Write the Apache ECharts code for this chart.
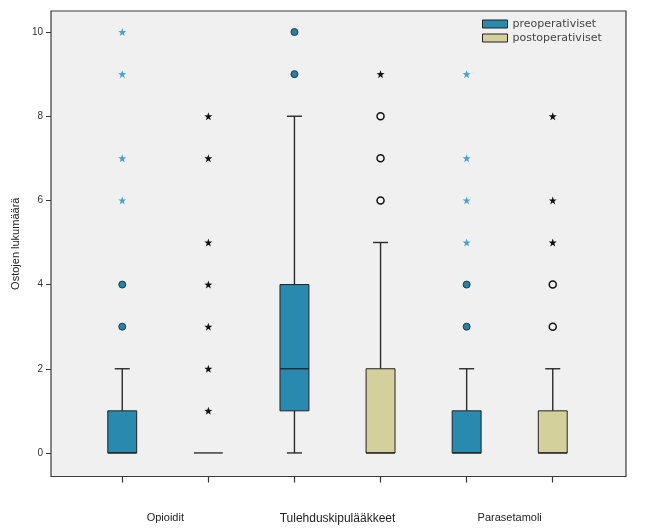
<!DOCTYPE html>
<html>
<head>
<meta charset="utf-8">
<script src="https://cdn.jsdelivr.net/npm/echarts@6/dist/echarts.min.js"></script>
<style>html,body{margin:0;padding:0;background:#fff;}#c{width:655px;height:528px;}</style>
</head>
<body>
<div id="c"></div>
<script>
// ---- data ----
var groups = ['Opioidit', 'Tulehduskipulääkkeet', 'Parasetamoli'];
var boxSlots = ['Opioidit pre', 'Opioidit post', 'Tulehduskipulääkkeet pre', 'Tulehduskipulääkkeet post', 'Parasetamoli pre', 'Parasetamoli post'];
var seriesNames = ['preoperativiset', 'postoperativiset'];
var yTicks = [0, 2, 4, 6, 8, 10];
// [min, Q1, median, Q3, max] per group
var preStats = [[0, 0, 0, 1, 2], [0, 1, 2, 4, 8], [0, 0, 0, 1, 2]];
var postStats = [[0, 0, 0, 0, 0], [0, 0, 0, 2, 5], [0, 0, 0, 1, 2]];
// outliers: [slot index, value]
var preCircles = [[0, 3], [0, 4], [2, 9], [2, 10], [4, 3], [4, 4]];
var preStars = [[0, 6], [0, 7], [0, 9], [0, 10], [4, 5], [4, 6], [4, 7], [4, 9]];
var postCircles = [[3, 6], [3, 7], [3, 8], [5, 3], [5, 4]];
var postStars = [[1, 1], [1, 2], [1, 3], [1, 4], [1, 5], [1, 7], [1, 8], [3, 9], [5, 5], [5, 6], [5, 8]];

// ---- styling ----
var preColor = '#2a89ae';
var postColor = '#d4d09c';
var STAR = 'path://M0,-10L2.35,-3.24L9.51,-3.09L3.8,1.24L5.88,8.09L0,4L-5.88,8.09L-3.8,1.24L-9.51,-3.09L-2.35,-3.24Z';
var FONT = "'Liberation Sans', Arial, sans-serif";
var WIDE = "'DejaVu Sans', sans-serif";
var Y_MIN = -0.56, Y_MAX = 10.5;

function toBoxData(stats, offset) {
  return stats.map(function (s, i) { return [i * 2 + offset].concat(s); });
}

function makeRender(fill) {
  return function (params, api) {
    var x = api.value(0);
    var v = [api.value(1), api.value(2), api.value(3), api.value(4), api.value(5)];
    var p = v.map(function (val) { return api.coord([x, val]); });
    var band = api.size([1, 0])[0];
    var half = band * 0.168;
    var cap = half * 0.52;
    var cx = p[2][0];
    var line = { stroke: '#2a2a2a', lineWidth: 1.4 };
    var ch = [];
    if (v[4] > v[3]) {
      ch.push({ type: 'line', shape: { x1: cx, y1: p[3][1], x2: cx, y2: p[4][1] }, style: line });
      ch.push({ type: 'line', shape: { x1: cx - cap, y1: p[4][1], x2: cx + cap, y2: p[4][1] }, style: line });
    }
    if (v[0] < v[1]) {
      ch.push({ type: 'line', shape: { x1: cx, y1: p[1][1], x2: cx, y2: p[0][1] }, style: line });
      ch.push({ type: 'line', shape: { x1: cx - cap, y1: p[0][1], x2: cx + cap, y2: p[0][1] }, style: line });
    }
    var h = p[1][1] - p[3][1];
    if (h > 0.5) {
      ch.push({ type: 'rect', shape: { x: cx - half, y: p[3][1], width: half * 2, height: h },
        style: { fill: fill, stroke: '#222', lineWidth: 1 } });
    }
    ch.push({ type: 'line', shape: { x1: cx - half, y1: p[2][1], x2: cx + half, y2: p[2][1] }, style: { stroke: '#222', lineWidth: 1.3 } });
    return { type: 'group', children: ch };
  };
}

var chart = echarts.init(document.getElementById('c'), null, { renderer: 'canvas' });
var frameGrid = { left: 51, top: 11, right: 29, bottom: 51.5 };
var dataGrid = { left: 79.2, top: 11, right: 59.2, bottom: 51.5 };

var option = {
  animation: false,
  backgroundColor: '#ffffff',
  textStyle: { fontFamily: FONT },
  grid: [
    { left: frameGrid.left, top: frameGrid.top, right: frameGrid.right, bottom: frameGrid.bottom,
      show: true, backgroundColor: '#f0f0f0', borderColor: '#3a3a3a', borderWidth: 1.2 },
    { left: dataGrid.left, top: dataGrid.top, right: dataGrid.right, bottom: dataGrid.bottom },
    { left: dataGrid.left, top: dataGrid.top, right: dataGrid.right, bottom: dataGrid.bottom }
  ],
  xAxis: [
    { gridIndex: 0, type: 'value', min: 0, max: 1, show: false },
    { gridIndex: 1, type: 'category', data: boxSlots, boundaryGap: true,
      axisLine: { show: false, onZero: false },
      axisTick: { show: true, interval: 0, alignWithLabel: true, length: 6, lineStyle: { color: '#333', width: 1.2 } },
      axisLabel: { show: false, interval: 0 }, splitLine: { show: false } },
    { gridIndex: 2, type: 'category', data: groups, boundaryGap: true,
      axisLine: { show: false, onZero: false }, axisTick: { show: false }, splitLine: { show: false },
      axisLabel: { show: true, interval: 0, margin: 36, color: '#222', fontFamily: FONT,
        formatter: function (val, idx) { return idx === 1 ? '{b|' + val + '}' : '{a|' + val + '}'; },
        rich: { a: { fontSize: 11, color: '#222', fontFamily: FONT }, b: { fontSize: 12, color: '#222', fontFamily: FONT } } } }
  ],
  yAxis: [
    { gridIndex: 0, type: 'value', min: Y_MIN, max: Y_MAX,
      name: 'Ostojen lukumäärä', nameLocation: 'middle', nameGap: 23,
      nameTextStyle: { fontSize: 11, color: '#222', fontFamily: FONT },
      axisLine: { show: false },
      axisTick: { show: true, length: 5, customValues: yTicks, lineStyle: { color: '#333' } },
      axisLabel: { show: true, margin: 8, fontSize: 10, color: '#333', customValues: yTicks, fontFamily: FONT },
      splitLine: { show: false } },
    { gridIndex: 1, type: 'value', min: Y_MIN, max: Y_MAX, show: false, splitLine: { show: false } },
    { gridIndex: 2, type: 'value', min: Y_MIN, max: Y_MAX, show: false, splitLine: { show: false } }
  ],
  legend: {
    orient: 'vertical', left: 482, top: 18, padding: 0, itemWidth: 25, itemHeight: 8, itemGap: 2,
    textStyle: { fontSize: 11, color: '#444', fontFamily: WIDE, lineHeight: 12 },
    data: [
      { name: seriesNames[0], icon: 'rect', itemStyle: { color: preColor, borderColor: '#222', borderWidth: 1 } },
      { name: seriesNames[1], icon: 'rect', itemStyle: { color: postColor, borderColor: '#222', borderWidth: 1 } }
    ]
  },
  series: [
    { name: seriesNames[0], type: 'custom', xAxisIndex: 1, yAxisIndex: 1,
      itemStyle: { color: preColor }, encode: { x: 0, y: [1, 2, 3, 4, 5] },
      renderItem: makeRender(preColor), data: toBoxData(preStats, 0) },
    { name: seriesNames[1], type: 'custom', xAxisIndex: 1, yAxisIndex: 1,
      itemStyle: { color: postColor }, encode: { x: 0, y: [1, 2, 3, 4, 5] },
      renderItem: makeRender(postColor), data: toBoxData(postStats, 1) },
    { name: 'pre-out', type: 'scatter', xAxisIndex: 1, yAxisIndex: 1, symbol: 'circle', symbolSize: 7,
      itemStyle: { color: '#2a7fa3', borderColor: '#1a3d4e', borderWidth: 1, opacity: 1 }, data: preCircles },
    { name: 'pre-ext', type: 'scatter', xAxisIndex: 1, yAxisIndex: 1, symbol: STAR, symbolSize: 8,
      itemStyle: { color: '#46a4cc', opacity: 1 }, data: preStars },
    { name: 'post-out', type: 'scatter', xAxisIndex: 1, yAxisIndex: 1, symbol: 'circle', symbolSize: 7,
      itemStyle: { color: '#f4f4f4', borderColor: '#111', borderWidth: 1.5, opacity: 1 }, data: postCircles },
    { name: 'post-ext', type: 'scatter', xAxisIndex: 1, yAxisIndex: 1, symbol: STAR, symbolSize: 8,
      itemStyle: { color: '#111', opacity: 1 }, data: postStars }
  ]
};
chart.setOption(option);
</script>
</body>
</html>
